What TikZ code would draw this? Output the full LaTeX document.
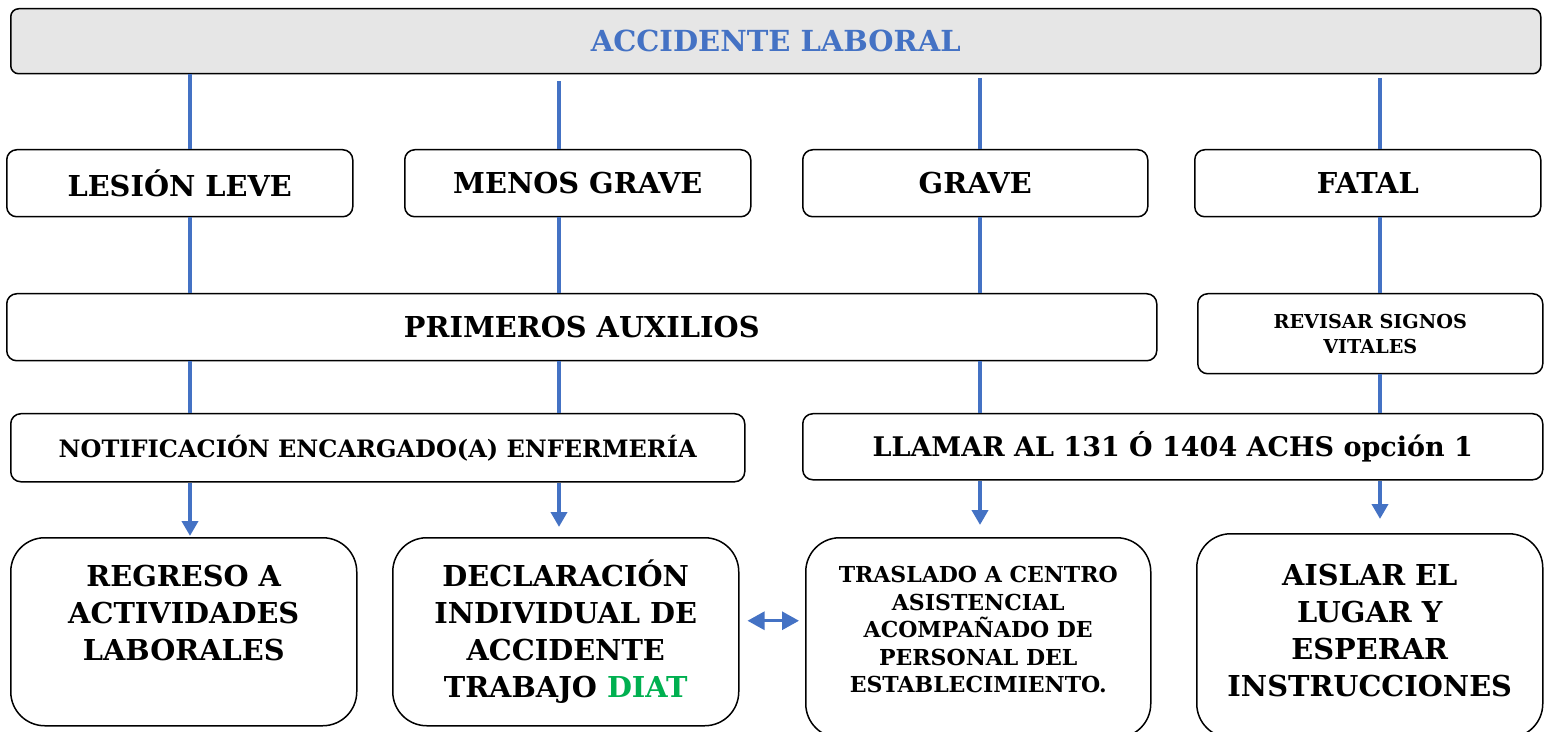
\documentclass[tikz,border=0pt]{standalone}
\usepackage{fontspec}
\setmainfont{DejaVu Serif}
\usetikzlibrary{arrows.meta}
\definecolor{lineblue}{HTML}{4472C4}
\definecolor{diatgreen}{HTML}{00B050}
\definecolor{headgray}{HTML}{E6E6E6}

\tikzset{
  box/.style={draw=black, line width=0.75pt, rounded corners=5pt, anchor=north west,
    inner sep=0pt, align=center, font=\bfseries\fontsize{14.4}{16}\selectfont},
  bigbox/.style={box, rounded corners=17pt, font=\bfseries\fontsize{14.4}{18.5}\selectfont},
  link/.style={color=lineblue, line width=2.3pt}
}

\begin{document}
\begin{tikzpicture}[x=0.5pt,y=-0.5pt,>={Triangle[width=8pt,length=7.5pt]}]
  \useasboundingbox (0,0) rectangle (1547,732);

  \node[box, fill=headgray, text=lineblue, rounded corners=4pt, minimum width=765pt,
        minimum height=32.5pt, font=\bfseries\fontsize{14.5}{17}\selectfont] (top) at (10,8) {ACCIDENTE LABORAL};

  \node[box, minimum width=173pt, minimum height=33.5pt]   (leve)  at (6,149)    {LESIÓN LEVE};
  \node[box, minimum width=173pt, minimum height=33.5pt]   (menos) at (404,149)  {MENOS GRAVE};
  \node[box, minimum width=172.5pt, minimum height=33.5pt] (grave) at (802,149)  {GRAVE};
  \node[box, minimum width=173pt, minimum height=33.5pt]   (fatal) at (1194,149) {FATAL};

  \node[box, minimum width=575pt, minimum height=33.5pt]   (aux)    at (6,293)    {PRIMEROS AUXILIOS};
  \node[box, minimum width=172.5pt, minimum height=40pt,
        font=\bfseries\fontsize{9.6}{12.5}\selectfont]     (signos) at (1197,293) {REVISAR SIGNOS\\VITALES};

  \node[box, minimum width=367pt, minimum height=34pt,
        font=\bfseries\fontsize{12}{14}\selectfont]        (notif)  at (10,413)  {NOTIFICACIÓN ENCARGADO(A) ENFERMERÍA};
  \node[box, minimum width=370pt, minimum height=33pt,
        font=\bfseries\fontsize{13.5}{15}\selectfont]      (llamar) at (802,413) {LLAMAR AL 131 Ó 1404 ACHS opción 1};

  \node[bigbox, minimum width=173pt, minimum height=94pt]  (regreso) at (10,537)
        {REGRESO A\\ACTIVIDADES\\LABORALES\\~};
  \node[bigbox, minimum width=173pt, minimum height=94pt]  (diat) at (392,537)
        {DECLARACIÓN\\INDIVIDUAL DE\\ACCIDENTE\\TRABAJO \textcolor{diatgreen}{DIAT}};
  \node[bigbox, minimum width=172.5pt, minimum height=100pt,
        font=\bfseries\fontsize{11}{13.75}\selectfont]     (traslado) at (805,537)
        {TRASLADO A CENTRO\\ASISTENCIAL\\ACOMPAÑADO DE\\PERSONAL DEL\\ESTABLECIMIENTO.\rule[-8pt]{0pt}{8pt}};
  \node[bigbox, minimum width=173pt, minimum height=102pt] (aislar) at (1196,533)
        {AISLAR EL\\LUGAR Y\\ESPERAR\\INSTRUCCIONES\rule[-5pt]{0pt}{5pt}};

  % columns of the connectors
  \coordinate (c1) at (190,0);
  \coordinate (c2) at (559,0);
  \coordinate (c3) at (980,0);
  \coordinate (c4) at (1380,0);

  \draw[link]
     (top.south -| c1)    edge (leve.north -| c1)
     (top.south -| c2)    edge [shorten <=3.5pt] (menos.north -| c2)
     (top.south -| c3)    edge [shorten <=2pt] (grave.north -| c3)
     (top.south -| c4)    edge [shorten <=2pt] (fatal.north -| c4)
     (leve.south -| c1)   edge (aux.north -| c1)
     (menos.south -| c2)  edge (aux.north -| c2)
     (grave.south -| c3)  edge (aux.north -| c3)
     (fatal.south -| c4)  edge (signos.north -| c4)
     (aux.south -| c1)    edge (notif.north -| c1)
     (aux.south -| c2)    edge (notif.north -| c2)
     (aux.south -| c3)    edge (llamar.north -| c3)
     (signos.south -| c4) edge (llamar.north -| c4)
     (notif.south -| c1)  edge [->, shorten >=0.5pt] (regreso.north -| c1)
     (notif.south -| c2)  edge [->, shorten >=5pt] (diat.north -| c2)
     (llamar.south -| c3) edge [->, shorten >=6pt] (traslado.north -| c3)
     (llamar.south -| c4) edge [->, shorten >=7pt] (aislar.north -| c4)
     ([yshift=5.5pt]diat.east) edge [{Triangle[width=9pt,length=8.5pt]}-{Triangle[width=9pt,length=8.5pt]},
        line width=1.5pt, shorten <=4pt, shorten >=3pt] ([yshift=8.5pt]traslado.west);
\end{tikzpicture}
\end{document}
